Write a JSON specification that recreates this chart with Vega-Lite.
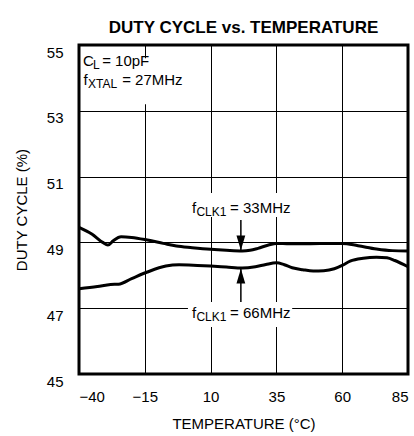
{
  "$schema": "https://vega.github.io/schema/vega-lite/v6.json",
  "width": 329,
  "height": 329,
  "autosize": {"type": "none"},
  "padding": {"left": 79, "top": 45, "right": 6, "bottom": 62},
  "background": "white",
  "title": {
    "text": "DUTY CYCLE vs. TEMPERATURE",
    "font": "Liberation Sans",
    "fontSize": 17,
    "fontWeight": "bold",
    "color": "black",
    "anchor": "middle",
    "baseline": "alphabetic",
    "offset": -5
  },
  "config": {
    "view": {"stroke": "black", "strokeWidth": 3},
    "axis": {
      "grid": true,
      "gridColor": "black",
      "gridWidth": 1,
      "gridOpacity": 1,
      "domain": false,
      "ticks": false,
      "labelFont": "Liberation Sans",
      "labelFontSize": 15,
      "labelColor": "black",
      "titleFont": "Liberation Sans",
      "titleFontSize": 15,
      "titleFontWeight": "normal",
      "titleColor": "black"
    }
  },
  "datasets": {
    "curves": [
      {"temp": -40, "duty": 49.46, "series": "33MHz"},
      {"temp": -35, "duty": 49.25, "series": "33MHz"},
      {"temp": -31, "duty": 49.0, "series": "33MHz"},
      {"temp": -29, "duty": 48.92, "series": "33MHz"},
      {"temp": -27, "duty": 49.05, "series": "33MHz"},
      {"temp": -24, "duty": 49.17, "series": "33MHz"},
      {"temp": -20, "duty": 49.15, "series": "33MHz"},
      {"temp": -14, "duty": 49.07, "series": "33MHz"},
      {"temp": -8, "duty": 48.97, "series": "33MHz"},
      {"temp": -3, "duty": 48.89, "series": "33MHz"},
      {"temp": 3, "duty": 48.84, "series": "33MHz"},
      {"temp": 10, "duty": 48.79, "series": "33MHz"},
      {"temp": 16, "duty": 48.76, "series": "33MHz"},
      {"temp": 22, "duty": 48.74, "series": "33MHz"},
      {"temp": 25, "duty": 48.76, "series": "33MHz"},
      {"temp": 28, "duty": 48.82, "series": "33MHz"},
      {"temp": 32, "duty": 48.92, "series": "33MHz"},
      {"temp": 35, "duty": 48.97, "series": "33MHz"},
      {"temp": 40, "duty": 48.96, "series": "33MHz"},
      {"temp": 48, "duty": 48.96, "series": "33MHz"},
      {"temp": 55, "duty": 48.97, "series": "33MHz"},
      {"temp": 60, "duty": 48.97, "series": "33MHz"},
      {"temp": 66, "duty": 48.9, "series": "33MHz"},
      {"temp": 73, "duty": 48.8, "series": "33MHz"},
      {"temp": 79, "duty": 48.75, "series": "33MHz"},
      {"temp": 85, "duty": 48.74, "series": "33MHz"},
      {"temp": -40, "duty": 47.59, "series": "66MHz"},
      {"temp": -33, "duty": 47.66, "series": "66MHz"},
      {"temp": -28, "duty": 47.72, "series": "66MHz"},
      {"temp": -25, "duty": 47.73, "series": "66MHz"},
      {"temp": -20, "duty": 47.9, "series": "66MHz"},
      {"temp": -14, "duty": 48.1, "series": "66MHz"},
      {"temp": -7, "duty": 48.28, "series": "66MHz"},
      {"temp": -2, "duty": 48.32, "series": "66MHz"},
      {"temp": 5, "duty": 48.3, "series": "66MHz"},
      {"temp": 10, "duty": 48.28, "series": "66MHz"},
      {"temp": 16, "duty": 48.25, "series": "66MHz"},
      {"temp": 22, "duty": 48.22, "series": "66MHz"},
      {"temp": 27, "duty": 48.26, "series": "66MHz"},
      {"temp": 31, "duty": 48.33, "series": "66MHz"},
      {"temp": 35, "duty": 48.38, "series": "66MHz"},
      {"temp": 38, "duty": 48.32, "series": "66MHz"},
      {"temp": 41, "duty": 48.23, "series": "66MHz"},
      {"temp": 45, "duty": 48.17, "series": "66MHz"},
      {"temp": 49, "duty": 48.13, "series": "66MHz"},
      {"temp": 53, "duty": 48.14, "series": "66MHz"},
      {"temp": 57, "duty": 48.2, "series": "66MHz"},
      {"temp": 60, "duty": 48.3, "series": "66MHz"},
      {"temp": 63, "duty": 48.43, "series": "66MHz"},
      {"temp": 68, "duty": 48.52, "series": "66MHz"},
      {"temp": 73, "duty": 48.55, "series": "66MHz"},
      {"temp": 77, "duty": 48.53, "series": "66MHz"},
      {"temp": 80, "duty": 48.45, "series": "66MHz"},
      {"temp": 85, "duty": 48.26, "series": "66MHz"}
    ],
    "boxes": [
      {"t1": -39, "t2": 0, "d1": 53.2, "d2": 54.6},
      {"t1": 2, "t2": 41, "d1": 49.77, "d2": 50.5},
      {"t1": 1.4, "t2": 41, "d1": 46.43, "d2": 47.19}
    ],
    "arrows": [
      {"temp": 21.5, "tip": 48.76, "tail": 49.68, "dir": "down"},
      {"temp": 21.5, "tip": 48.2, "tail": 47.19, "dir": "up"}
    ],
    "labels": [
      {"temp": -38.5, "duty": 54.36, "text": "C", "kind": "main"},
      {"temp": -34.7, "duty": 54.27, "text": "L", "kind": "sub"},
      {"temp": -31.2, "duty": 54.36, "text": "= 10pF", "kind": "main"},
      {"temp": -38.3, "duty": 53.78, "text": "f", "kind": "main"},
      {"temp": -36.6, "duty": 53.69, "text": "XTAL", "kind": "sub"},
      {"temp": -23.6, "duty": 53.78, "text": "= 27MHz", "kind": "main"},
      {"temp": 2.9, "duty": 49.89, "text": "f", "kind": "main"},
      {"temp": 4.6, "duty": 49.8, "text": "CLK1", "kind": "sub"},
      {"temp": 17.4, "duty": 49.89, "text": "= 33MHz", "kind": "main"},
      {"temp": 2.9, "duty": 46.7, "text": "f", "kind": "main"},
      {"temp": 4.6, "duty": 46.61, "text": "CLK1", "kind": "sub"},
      {"temp": 17.4, "duty": 46.7, "text": "= 66MHz", "kind": "main"}
    ]
  },
  "encoding": {
    "x": {
      "field": "temp",
      "type": "quantitative",
      "scale": {"domain": [-40, 85], "nice": false, "zero": false},
      "axis": {"values": [-40, -15, 10, 35, 60, 85], "title": "TEMPERATURE (°C)", "labelPadding": 15, "titlePadding": 12}
    },
    "y": {
      "field": "duty",
      "type": "quantitative",
      "scale": {"domain": [45, 55], "nice": false, "zero": false},
      "axis": {"values": [45, 47, 49, 51, 53, 55], "title": "DUTY CYCLE (%)", "labelPadding": 16, "labelBaseline": "top", "titlePadding": 17}
    }
  },
  "layer": [
    {
      "data": {"name": "curves"},
      "mark": {"type": "line", "color": "black", "strokeWidth": 3, "interpolate": "monotone"},
      "encoding": {"detail": {"field": "series"}}
    },
    {
      "data": {"name": "boxes"},
      "mark": {"type": "rect", "fill": "white", "stroke": null},
      "encoding": {
        "x": {"field": "t1", "type": "quantitative"},
        "x2": {"field": "t2"},
        "y": {"field": "d1", "type": "quantitative"},
        "y2": {"field": "d2"}
      }
    },
    {
      "data": {"name": "arrows"},
      "mark": {"type": "rule", "color": "black", "strokeWidth": 1.5},
      "encoding": {
        "y": {"field": "tip", "type": "quantitative"},
        "y2": {"field": "tail"}
      }
    },
    {
      "data": {"name": "arrows"},
      "transform": [{"filter": "datum.dir === 'down'"}],
      "mark": {"type": "point", "filled": true, "color": "black", "opacity": 1, "size": 64, "shape": "M0,0L-1.1,-3.7L1.1,-3.7Z", "strokeWidth": 0},
      "encoding": {"y": {"field": "tip", "type": "quantitative"}}
    },
    {
      "data": {"name": "arrows"},
      "transform": [{"filter": "datum.dir === 'up'"}],
      "mark": {"type": "point", "filled": true, "color": "black", "opacity": 1, "size": 64, "shape": "M0,0L-1.1,3.7L1.1,3.7Z", "strokeWidth": 0},
      "encoding": {"y": {"field": "tip", "type": "quantitative"}}
    },
    {
      "data": {"name": "labels"},
      "transform": [{"filter": "datum.kind === 'main'"}],
      "mark": {"type": "text", "align": "left", "baseline": "alphabetic", "font": "Liberation Sans", "fontSize": 15, "color": "black"},
      "encoding": {"text": {"field": "text"}}
    },
    {
      "data": {"name": "labels"},
      "transform": [{"filter": "datum.kind === 'sub'"}],
      "mark": {"type": "text", "align": "left", "baseline": "alphabetic", "font": "Liberation Sans", "fontSize": 12, "color": "black"},
      "encoding": {"text": {"field": "text"}}
    }
  ]
}
